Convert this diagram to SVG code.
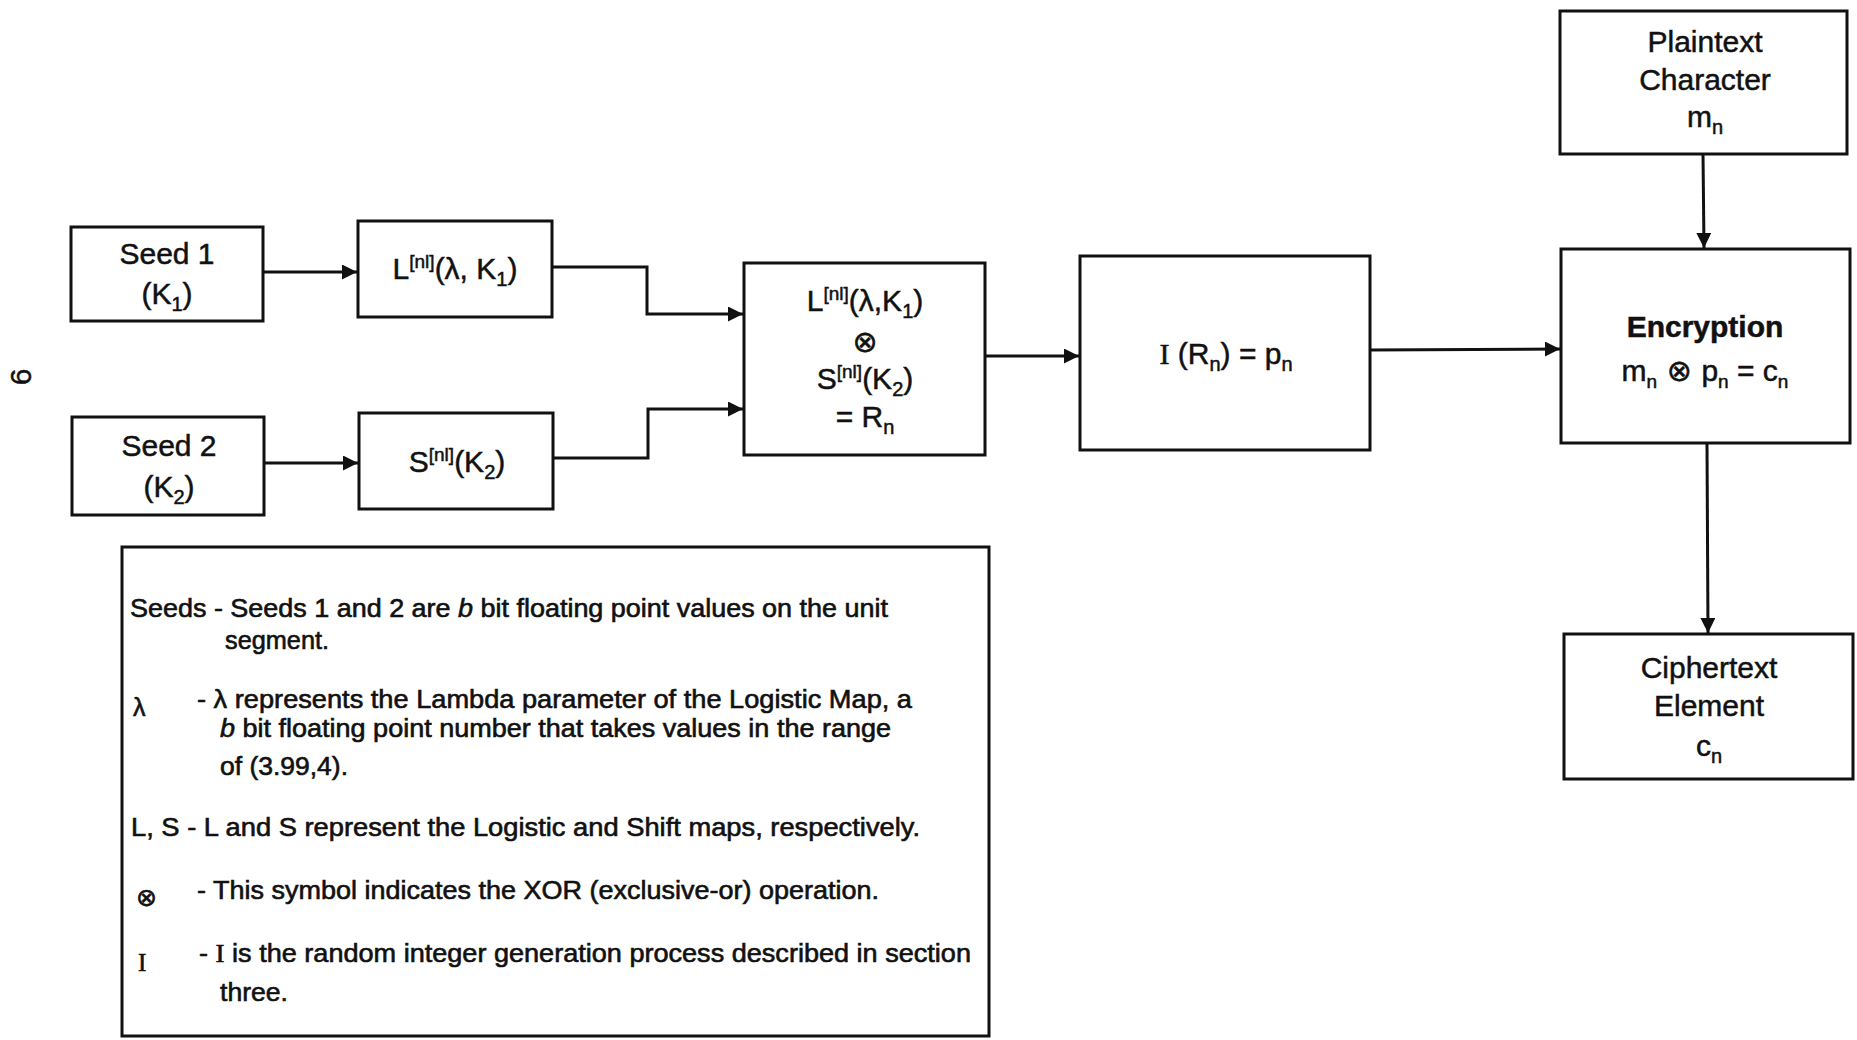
<svg xmlns="http://www.w3.org/2000/svg" width="1857" height="1040" viewBox="0 0 1857 1040">
<defs>
<style>
.box{fill:#fff;stroke:#111;stroke-width:3}
.t{font-family:"Liberation Sans",Arial,sans-serif;font-size:30px;fill:#111;stroke:#111;stroke-width:0.5;text-anchor:middle}
.lg{font-family:"Liberation Sans",Arial,sans-serif;font-size:25px;fill:#111;stroke:#111;stroke-width:0.6}
.sym{font-family:"DejaVu Sans",sans-serif}
.ser{font-family:"Liberation Serif","Times New Roman",serif}
.c{fill:none;stroke:#111;stroke-width:3}
</style>
<marker id="ah" viewBox="0 0 10 10" refX="10" refY="5" markerWidth="5.5" markerHeight="5" markerUnits="strokeWidth" orient="auto">
<path d="M0,0 L10,5 L0,10 z" fill="#111"/>
</marker>
</defs>
<rect width="1857" height="1040" fill="#fff"/>

<text x="21" y="377" class="t" font-size="28" transform="rotate(-90 21 377)" dy="10">6</text>

<g id="connectors">
<line class="c" x1="263" y1="272" x2="357" y2="272" marker-end="url(#ah)"/>
<line class="c" x1="264" y1="463" x2="358" y2="463" marker-end="url(#ah)"/>
<polyline class="c" points="552,267 647,267 647,314 743,314" marker-end="url(#ah)"/>
<polyline class="c" points="553,458 648,458 648,409 743,409" marker-end="url(#ah)"/>
<line class="c" x1="985" y1="356" x2="1079" y2="356" marker-end="url(#ah)"/>
<line class="c" x1="1370" y1="350" x2="1560" y2="349" marker-end="url(#ah)"/>
<line class="c" x1="1703" y1="154" x2="1704" y2="248" marker-end="url(#ah)"/>
<line class="c" x1="1707" y1="443" x2="1708" y2="633" marker-end="url(#ah)"/>
</g>

<g id="seed1">
<rect class="box" x="71" y="227" width="192" height="94"/>
<text class="t" x="167" y="264">Seed 1</text>
<text class="t" x="167" y="304">(K<tspan font-size="20" dy="7">1</tspan><tspan dy="-7">)</tspan></text>
</g>

<g id="seed2">
<rect class="box" x="72" y="417" width="192" height="98"/>
<text class="t" x="169" y="456">Seed 2</text>
<text class="t" x="169" y="497">(K<tspan font-size="20" dy="7">2</tspan><tspan dy="-7">)</tspan></text>
</g>

<g id="logistic">
<rect class="box" x="358" y="221" width="194" height="96"/>
<text class="t" x="455" y="279">L<tspan font-size="19" dy="-11">[nl]</tspan><tspan dy="11">(λ, K</tspan><tspan font-size="20" dy="7">1</tspan><tspan dy="-7">)</tspan></text>
</g>

<g id="shift">
<rect class="box" x="359" y="413" width="194" height="96"/>
<text class="t" x="457" y="472">S<tspan font-size="19" dy="-11">[nl]</tspan><tspan dy="11">(K</tspan><tspan font-size="20" dy="7">2</tspan><tspan dy="-7">)</tspan></text>
</g>

<g id="xor">
<rect class="box" x="744" y="263" width="241" height="192"/>
<text class="t" x="865" y="311">L<tspan font-size="19" dy="-11">[nl]</tspan><tspan dy="11">(λ,K</tspan><tspan font-size="20" dy="7">1</tspan><tspan dy="-7">)</tspan></text>
<text class="t sym" x="865" y="352" font-size="32">⊗</text>
<text class="t" x="865" y="389">S<tspan font-size="19" dy="-11">[nl]</tspan><tspan dy="11">(K</tspan><tspan font-size="20" dy="7">2</tspan><tspan dy="-7">)</tspan></text>
<text class="t" x="865" y="427">= R<tspan font-size="20" dy="7">n</tspan></text>
</g>

<g id="integer">
<rect class="box" x="1080" y="256" width="290" height="194"/>
<text class="t" x="1226" y="364"><tspan class="ser">I</tspan> (R<tspan font-size="20" dy="7">n</tspan><tspan dy="-7">) = p</tspan><tspan font-size="20" dy="7">n</tspan></text>
</g>

<g id="plaintext">
<rect class="box" x="1560" y="11" width="287" height="143"/>
<text class="t" x="1705" y="52">Plaintext</text>
<text class="t" x="1705" y="90">Character</text>
<text class="t" x="1705" y="127">m<tspan font-size="20" dy="7">n</tspan></text>
</g>

<g id="encryption">
<rect class="box" x="1561" y="249" width="289" height="194"/>
<text class="t" x="1705" y="337" font-size="36" font-weight="bold">Encryption</text>
<text class="t" x="1705" y="381" font-size="28">m<tspan font-size="19" dy="7">n</tspan><tspan dy="-7" class="sym" font-size="30"> ⊗ </tspan>p<tspan font-size="19" dy="7">n</tspan><tspan dy="-7"> = c</tspan><tspan font-size="19" dy="7">n</tspan></text>
</g>

<g id="ciphertext">
<rect class="box" x="1564" y="634" width="289" height="145"/>
<text class="t" x="1709" y="678">Ciphertext</text>
<text class="t" x="1709" y="716">Element</text>
<text class="t" x="1709" y="756">c<tspan font-size="20" dy="7">n</tspan></text>
</g>

<g id="legend">
<rect class="box" x="122" y="547" width="867" height="489"/>
<text class="lg" x="130" y="617" textLength="758" lengthAdjust="spacingAndGlyphs">Seeds - Seeds 1 and 2 are <tspan font-style="italic">b</tspan> bit floating point values on the unit</text>
<text class="lg" x="225" y="649" textLength="104" lengthAdjust="spacingAndGlyphs">segment.</text>
<text class="lg" x="133" y="716">λ</text>
<text class="lg" x="197" y="708" textLength="715" lengthAdjust="spacingAndGlyphs">- λ represents the Lambda parameter of the Logistic Map, a</text>
<text class="lg" x="220" y="737" textLength="671" lengthAdjust="spacingAndGlyphs"><tspan font-style="italic">b</tspan> bit floating point number that takes values in the range</text>
<text class="lg" x="220" y="775" textLength="128" lengthAdjust="spacingAndGlyphs">of (3.99,4).</text>
<text class="lg" x="131" y="836" textLength="789" lengthAdjust="spacingAndGlyphs">L, S  - L and S represent the Logistic and Shift maps, respectively.</text>
<text class="lg sym" x="136" y="906" font-size="26">⊗</text>
<text class="lg" x="197" y="899" textLength="682" lengthAdjust="spacingAndGlyphs">- This symbol indicates the XOR (exclusive-or) operation.</text>
<text class="lg ser" x="138" y="971">I</text>
<text class="lg" x="199" y="962" textLength="772" lengthAdjust="spacingAndGlyphs">- <tspan class="ser">I</tspan>  is the random integer generation process described in section</text>
<text class="lg" x="220" y="1001" textLength="68" lengthAdjust="spacingAndGlyphs">three.</text>
</g>
</svg>
